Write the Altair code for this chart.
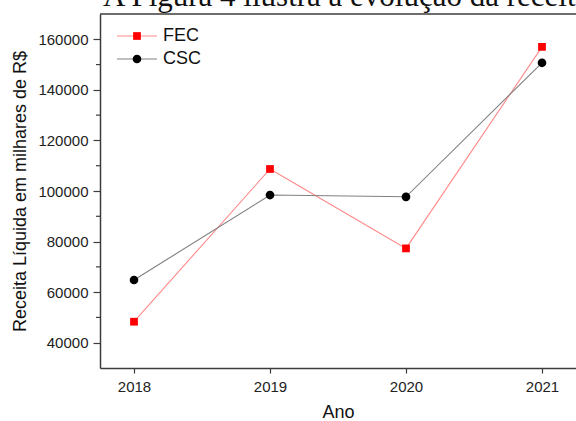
import altair as alt
import pandas as pd

# Receita líquida (milhares de R$) por ano
anos = [2018, 2019, 2020, 2021]
fec = [48300, 108700, 77300, 157000]
csc = [64800, 98400, 97700, 150700]

series_names = ["FEC", "CSC"]
series_values = [fec, csc]
line_colors = ["#ff8a8a", "#808080"]
marker_colors = ["#ff0000", "#000000"]
marker_shapes = ["square", "circle"]
marker_sizes = [60, 75]

y_major = [40000, 60000, 80000, 100000, 120000, 140000, 160000]
y_minor = [50000, 70000, 90000, 110000, 130000, 150000]

heading = "A Figura 4 ilustra a evolução da receita"

W, H = 476, 354
AXIS = "#3c3c3c"
FONT = "Liberation Sans"

x_scale = alt.Scale(domain=[2017.75, 2021.25], nice=False, zero=False)
y_scale = alt.Scale(domain=[30000, 170000], nice=False, zero=False)

x_axis = alt.Axis(values=anos, format="d", grid=False, tickSize=5,
                  labelPadding=6, titlePadding=9)
y_axis = alt.Axis(values=y_major, format="d", grid=False, tickSize=7,
                  labelPadding=5, titlePadding=8)

layers = []
for i, name in enumerate(series_names):
    d = pd.DataFrame({"Ano": anos, "Receita": series_values[i]})
    base = alt.Chart(d).encode(
        x=alt.X("Ano:Q", scale=x_scale, title="Ano", axis=x_axis),
        y=alt.Y("Receita:Q", scale=y_scale,
                title="Receita Líquida em milhares de R$", axis=y_axis),
    )
    layers.append(base.mark_line(strokeWidth=1.1, color=line_colors[i]))
    layers.append(base.mark_point(
        filled=True, opacity=1, size=marker_sizes[i],
        shape=marker_shapes[i], color=marker_colors[i],
    ))

# minor ticks on the y axis
minor = alt.Chart(pd.DataFrame({"v": y_minor})).mark_rule(
    color=AXIS, strokeWidth=1.2
).encode(y=alt.Y("v:Q", scale=y_scale), x=alt.value(-4), x2=alt.value(0))

# top frame line
top_line = alt.Chart(pd.DataFrame({"k": [0]})).mark_rule(
    color=AXIS, strokeWidth=1.5
).encode(x=alt.value(0), x2=alt.value(W), y=alt.value(0))

# legend: line sample, marker and label for each series
legend_layers = []
for i, name in enumerate(series_names):
    row_y = 22 + 23 * i
    ld = pd.DataFrame({"Serie": [name]})
    legend_layers.append(alt.Chart(ld).mark_rule(
        strokeWidth=1.1, color=line_colors[i]
    ).encode(x=alt.value(17), x2=alt.value(57), y=alt.value(row_y)))
    legend_layers.append(alt.Chart(ld).mark_point(
        filled=True, opacity=1, size=marker_sizes[i],
        shape=marker_shapes[i], color=marker_colors[i],
    ).encode(x=alt.value(37), y=alt.value(row_y)))
    legend_layers.append(alt.Chart(ld).mark_text(
        align="left", baseline="middle", fontSize=18, font=FONT,
        color="#111111",
    ).encode(x=alt.value(63), y=alt.value(row_y), text="Serie:N"))

head = alt.Chart(pd.DataFrame({"t": [heading]})).mark_text(
    align="left", baseline="alphabetic", fontSize=31,
    font="Liberation Serif", color="#111111",
).encode(x=alt.value(3), y=alt.value(-8), text="t:N")

chart = alt.layer(
    *layers, minor, top_line, *legend_layers, head
).properties(
    width=W, height=H,
    autosize="none",
    padding={"left": 100, "top": 14, "right": 0, "bottom": 53},
    background="white",
).configure_view(stroke=None).configure_axis(
    domainColor=AXIS, domainWidth=1.5, tickColor=AXIS, tickWidth=1.2,
    labelFont=FONT, labelFontSize=15, labelColor="#222222",
    titleFont=FONT, titleFontSize=18, titleFontWeight="normal",
    titleColor="#111111",
)

chart.save("out.html", embed_options={"renderer": "svg", "actions": False})
